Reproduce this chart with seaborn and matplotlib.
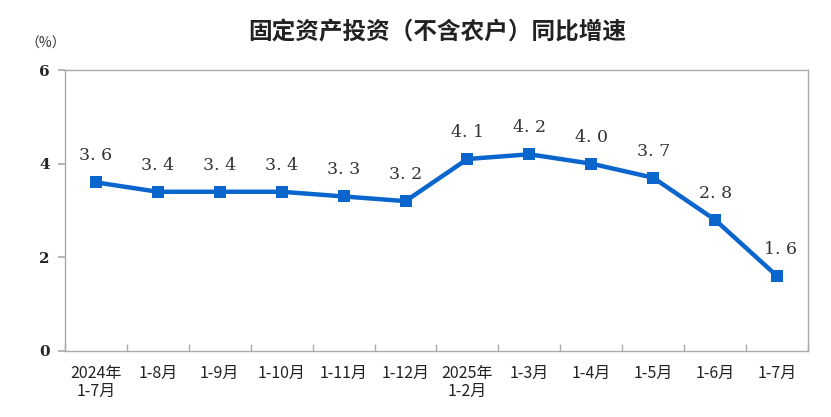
import matplotlib
matplotlib.use("Agg")
import matplotlib.pyplot as plt
import seaborn as sns
import numpy as np
import pandas as pd

periods = ["2024年\n1-7月", "1-8月", "1-9月", "1-10月", "1-11月", "1-12月",
           "2025年\n1-2月", "1-3月", "1-4月", "1-5月", "1-6月", "1-7月"]
growth = [3.6, 3.4, 3.4, 3.4, 3.3, 3.2, 4.1, 4.2, 4.0, 3.7, 2.8, 1.6]
y_ticks = [0, 2, 4, 6]

sns.set_theme(style="white")
plt.rcParams["font.family"] = ["Noto Sans CJK SC", "DejaVu Sans"]

df = pd.DataFrame({"x": np.arange(len(periods)), "v": growth})

fig = plt.figure(figsize=(8.31, 4.17), dpi=100)
ax = fig.add_axes([65 / 831, 1 - 351 / 417, 743 / 831, 281 / 417])

blue = "#0a66cc"
sns.lineplot(data=df, x="x", y="v", ax=ax, color=blue, linewidth=3.2,
             marker="s", markersize=9, markeredgewidth=0, markerfacecolor=blue)

for i, v in enumerate(growth):
    dx = 0.05 if i == len(growth) - 1 else 0
    ax.annotate(f"{v:.1f}".replace(".", ". "), (i + dx, v), xytext=(0, 13),
                textcoords="offset points", ha="center", va="bottom",
                fontsize=12.5, color="#333333", family=["DejaVu Serif"])

ax.set_xlim(-0.5, len(periods) - 0.5)
ax.set_ylim(0, 6)
ax.set_yticks(y_ticks)
ax.set_yticklabels([str(t) for t in y_ticks], fontsize=11, fontweight="bold",
                   family=["DejaVu Serif"])
ax.set_xticks(np.arange(len(periods)))
ax.set_xticklabels(periods, fontsize=11.5, color="#222222", linespacing=1.1)
ax.tick_params(axis="x", which="major", length=0, pad=10)
ax.set_xticks(np.arange(len(periods) + 1) - 0.5, minor=True)
ax.tick_params(axis="x", which="minor", direction="in", length=5, color="#aaaaaa",
               bottom=True)
ax.tick_params(axis="y", direction="out", length=5, color="#aaaaaa", left=True, pad=6)
ax.set_xlabel("")
ax.set_ylabel("")

for s in ax.spines.values():
    s.set_color("#aaaaaa")
    s.set_linewidth(1.0)

fig.text(25 / 831, 1 - 44 / 417, "（%）", fontsize=10, ha="left", va="center", color="#333333")
fig.text(437 / 831, 1 - 32 / 417, "固定资产投资（不含农户）同比增速", fontsize=17,
         fontweight="bold", ha="center", va="center", color="#222222")

fig.savefig("out.png", dpi=100)
